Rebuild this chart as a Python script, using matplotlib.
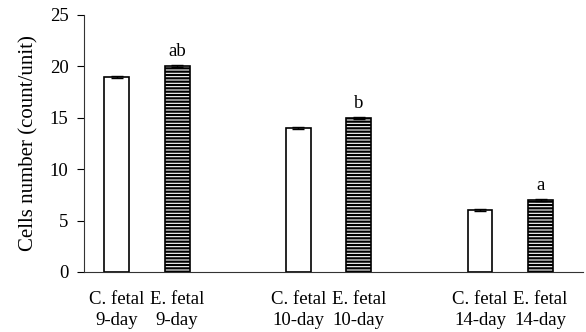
import matplotlib
matplotlib.use('Agg')
import matplotlib.pyplot as plt

plt.rcParams['font.family'] = 'Liberation Serif'
plt.rcParams['hatch.linewidth'] = 1.6

groups = ['C. fetal\n9-day', 'E. fetal\n9-day',
          'C. fetal\n10-day', 'E. fetal\n10-day',
          'C. fetal\n14-day', 'E. fetal\n14-day']
values = [19, 20, 14, 15, 6, 7]
errors = [0.1, 0.1, 0.05, 0.1, 0.08, 0.1]
letters = ['', 'ab', '', 'b', '', 'a']
positions = [0, 1, 3, 4, 6, 7]

fs = 13.5

fig = plt.figure(figsize=(5.86, 3.32), dpi=100)
ax = fig.add_axes([0.143, 0.181, 0.852, 0.774])

for i, (x, v, e) in enumerate(zip(positions, values, errors)):
    treated = i % 2 == 1
    ax.bar(x, v, width=0.41, color='white', edgecolor='black', linewidth=1.2,
           hatch='-----' if treated else None, zorder=2)
    ax.errorbar(x, v, yerr=e, fmt='none', ecolor='black', elinewidth=1,
                capsize=4, capthick=1, zorder=3)
    if letters[i]:
        ax.text(x, v + 0.6, letters[i], ha='center', va='bottom', fontsize=fs)

ax.set_xlim(-0.54, 7.7)
ax.set_ylim(0, 25)
ax.set_yticks([0, 5, 10, 15, 20, 25])
ax.set_xticks(positions)
ax.set_xticklabels(groups, fontsize=fs, linespacing=1.3)
ax.tick_params(axis='x', length=0, pad=14)
ax.tick_params(axis='y', labelsize=fs, length=5, width=0.8, pad=6)
ax.set_ylabel('Cells number (count/unit)', fontsize=15, labelpad=8)

for side in ['top', 'right']:
    ax.spines[side].set_visible(False)
for side in ['left', 'bottom']:
    ax.spines[side].set_linewidth(0.8)
    ax.spines[side].set_color('#333333')

fig.savefig('out.png', dpi=100)
plt.close(fig)
